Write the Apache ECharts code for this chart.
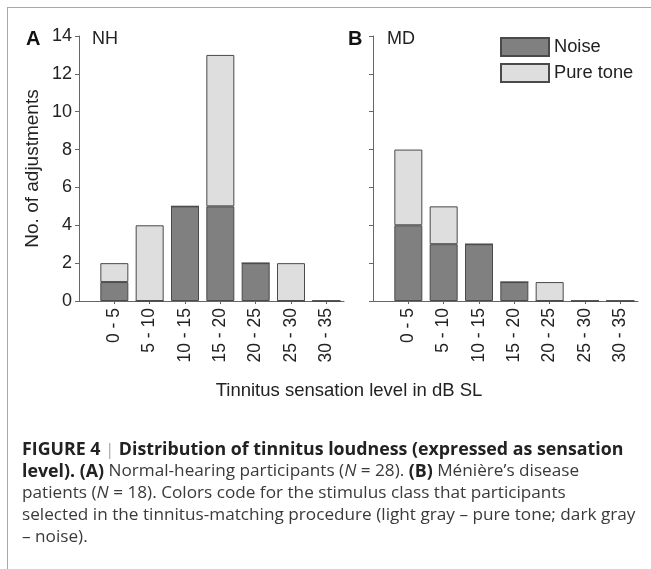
<!DOCTYPE html>
<html>
<head>
<meta charset="utf-8">
<script src="https://cdn.jsdelivr.net/npm/echarts@6/dist/echarts.min.js"></script>
<style>
  html, body { margin: 0; padding: 0; background: #fff; }
  #frame { position: absolute; left: 7px; top: 7px; width: 660px; height: 580px;
           border-left: 1px solid #a8a8a8; border-top: 1px solid #a8a8a8; }
  #chart { position: absolute; left: 0; top: 0; width: 651px; height: 569px; }
</style>
</head>
<body>
<div id="frame"></div>
<div id="chart"></div>
<script>
// tinnitus sensation level bins (dB SL)
const categories = ['0 - 5', '5 - 10', '10 - 15', '15 - 20', '20 - 25', '25 - 30', '30 - 35'];
// NH = normal hearing, MD = Meniere's disease
const nhNoise = [1, 0, 5, 5, 2, 0, 0];
const nhPure  = [1, 4, 0, 8, 0, 2, 0];
const mdNoise = [4, 3, 3, 1, 0, 0, 0];
const mdPure  = [4, 2, 0, 0, 1, 0, 0];
const yMax = 14;
const yStep = 2;

const FONT = 'Liberation Sans';
const CAPFONT = 'Open Sans';
const FS = 18;
const noiseColor = '#808080';
const pureColor = '#dedede';
const edge = '#4a4a4a';

// value first so the stack is done on y, bin index second
const toPairs = arr => arr.map((v, i) => [v, i]);
const catIdx = categories.map((c, i) => i);

function xAxisFor(gridIndex) {
  return {
    type: 'value', gridIndex: gridIndex,
    min: -1, max: 6.5, interval: 1,
    splitLine: { show: false },
    axisLine: { show: true, onZero: false, lineStyle: { color: '#666', width: 1 } },
    axisTick: { show: true, length: 3, customValues: catIdx, lineStyle: { color: '#666' } },
    axisLabel: {
      customValues: catIdx,
      rotate: 90, margin: 7, fontSize: 17.5, color: '#222', fontFamily: FONT,
      formatter: v => (categories[v] !== undefined ? categories[v] : '')
    }
  };
}

function yAxisFor(gridIndex, withLabels) {
  return {
    type: 'value', gridIndex: gridIndex,
    min: 0, max: yMax, interval: yStep,
    name: withLabels ? 'No. of adjustments' : '',
    nameLocation: 'middle', nameGap: 37,
    nameTextStyle: { fontSize: 19, color: '#222', fontFamily: FONT },
    splitLine: { show: false },
    axisLine: { show: true, onZero: false, lineStyle: { color: '#666', width: 1 } },
    axisTick: { show: true, length: 4, lineStyle: { color: '#666' } },
    axisLabel: { show: withLabels, margin: 7, fontSize: FS, color: '#222', fontFamily: FONT }
  };
}

function barSeries(name, data, idx, color) {
  return {
    name: name, type: 'bar',
    xAxisIndex: idx, yAxisIndex: idx,
    stack: 'panel' + idx,
    barWidth: 28,
    encode: { x: 1, y: 0 },
    data: toPairs(data),
    itemStyle: { color: color, borderColor: edge, borderWidth: 1 },
    emphasis: { disabled: true }
  };
}

const captionLines = [
  '{b|FIGURE 4} {s||} {b|Distribution of tinnitus loudness (expressed as sensation}',
  '{b|level). (A)} Normal-hearing participants ({i|N} = 28). {b|(B)} Ménière’s disease',
  'patients ({i|N} = 18). Colors code for the stimulus class that participants',
  'selected in the tinnitus-matching procedure (light gray – pure tone; dark gray',
  '– noise).'
];
const CFS = 17.2;
const CFSB = 17.8;
const CLH = 21.7;

const chart = echarts.init(document.getElementById('chart'), null, { renderer: 'canvas' });

chart.setOption({
  animation: false,
  backgroundColor: 'transparent',
  textStyle: { fontFamily: FONT },
  grid: [
    { left: 79, top: 36, width: 265, height: 265 },
    { left: 373, top: 36, width: 265, height: 265 }
  ],
  xAxis: [xAxisFor(0), xAxisFor(1)],
  yAxis: [yAxisFor(0, true), yAxisFor(1, false)],
  legend: {
    data: ['Noise', 'Pure tone'],
    orient: 'vertical',
    left: 500, top: 37,
    padding: 0,
    icon: 'rect',
    itemWidth: 48, itemHeight: 18, itemGap: 6,
    textStyle: { fontSize: 18.3, color: '#222', fontFamily: FONT },
    selectedMode: false
  },
  series: [
    barSeries('Noise', nhNoise, 0, noiseColor),
    barSeries('Pure tone', nhPure, 0, pureColor),
    barSeries('Noise', mdNoise, 1, noiseColor),
    barSeries('Pure tone', mdPure, 1, pureColor)
  ],
  graphic: [
    { type: 'text', x: 26, y: 39, style: { text: 'A', fontSize: 20, fontWeight: 'bold', fontFamily: FONT, fill: '#111', verticalAlign: 'middle' } },
    { type: 'text', x: 92, y: 39, style: { text: 'NH', fontSize: FS, fontFamily: FONT, fill: '#222', verticalAlign: 'middle' } },
    { type: 'text', x: 348, y: 39, style: { text: 'B', fontSize: 20, fontWeight: 'bold', fontFamily: FONT, fill: '#111', verticalAlign: 'middle' } },
    { type: 'text', x: 387, y: 39, style: { text: 'MD', fontSize: FS, fontFamily: FONT, fill: '#222', verticalAlign: 'middle' } },
    { type: 'text', x: 349, y: 391, style: { text: 'Tinnitus sensation level in dB SL', fontSize: 18.5, fontFamily: FONT, fill: '#222', align: 'center', verticalAlign: 'middle' } },
    {
      type: 'text', x: 22, y: 439,
      style: {
        text: captionLines.join('\n'),
        fontSize: CFS, fontFamily: CAPFONT, fill: '#3a3a3a', lineHeight: CLH,
        rich: {
          b: { fontWeight: 'bold', fontSize: CFSB, fontFamily: CAPFONT, fill: '#222', lineHeight: CLH },
          i: { fontStyle: 'italic', fontSize: CFS, fontFamily: CAPFONT, fill: '#3a3a3a', lineHeight: CLH },
          s: { fontSize: CFS, fontFamily: CAPFONT, fill: '#aaa', lineHeight: CLH }
        }
      }
    }
  ]
});
</script>
</body>
</html>
